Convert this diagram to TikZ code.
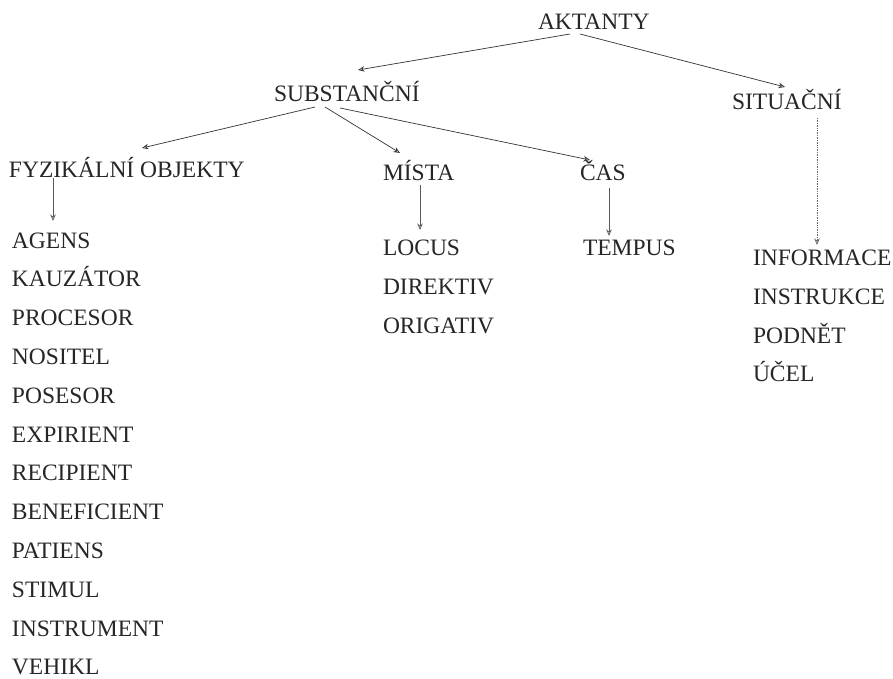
\documentclass[tikz,border=0pt]{standalone}
\usepackage{fontspec}
\setmainfont{Liberation Serif}
\usetikzlibrary{arrows.meta}
\begin{document}
\begin{tikzpicture}[x=1pt,y=-1pt,
  lbl/.style={anchor=base west,inner sep=0pt,outer sep=0pt,text=black!85,
    font=\fontsize{23.5}{28}\selectfont},
  arr/.style={draw=black!80,line width=0.7pt,-{Stealth[open,length=6.5pt,width=5.5pt]}},
  varr/.style={arr,draw=black!65},
  darr/.style={arr,draw=black!60,densely dotted,-{Stealth[open,length=6.5pt,width=5.5pt]}}]
\useasboundingbox[fill=white] (0,0) rectangle (893,679);
% top levels
\node[lbl] (akt) at (538,30) {AKTANTY};
\node[lbl] (subst) at (274,102) {SUBSTANČNÍ};
\node[lbl] (sit) at (732,110) {SITUAČNÍ};
\node[lbl] (fyz) at (9,177) {FYZIKÁLNÍ OBJEKTY};
\node[lbl] (mista) at (383,180) {MÍSTA};
\node[lbl] (cas) at (580,180) {ČAS};
% left list
\node[lbl] (agens) at (12,248.0) {AGENS};
\node[lbl] (kauz) at (12,286.8) {KAUZÁTOR};
\node[lbl] (proc) at (12,325.6) {PROCESOR};
\node[lbl] (nos) at (12,364.4) {NOSITEL};
\node[lbl] (pos) at (12,403.2) {POSESOR};
\node[lbl] (exp) at (12,442.0) {EXPIRIENT};
\node[lbl] (rec) at (12,480.8) {RECIPIENT};
\node[lbl] (ben) at (12,519.6) {BENEFICIENT};
\node[lbl] (pat) at (12,558.4) {PATIENS};
\node[lbl] (stim) at (12,597.2) {STIMUL};
\node[lbl] (instr) at (12,636.0) {INSTRUMENT};
\node[lbl] (veh) at (12,674.6) {VEHIKL};
% middle
\node[lbl] (locus) at (383,255) {LOCUS};
\node[lbl] (dir) at (383,294) {DIREKTIV};
\node[lbl] (orig) at (383,333) {ORIGATIV};
\node[lbl] (temp) at (583,255) {TEMPUS};
% right
\node[lbl] (inf) at (753,265) {INFORMACE};
\node[lbl] (ins) at (753,304) {INSTRUKCE};
\node[lbl] (pod) at (753,343) {PODNĚT};
\node[lbl] (ucel) at (753,381) {ÚČEL};
% connectors
\draw[arr] ([shift={(32,4)}]akt.base west) -- ([shift={(84,-32)}]subst.base west);
\draw[arr] ([shift={(42,4)}]akt.base west) -- ([shift={(53,-23)}]sit.base west);
\draw[arr] ([shift={(41,5)}]subst.base west) -- ([shift={(133,-29)}]fyz.base west);
\draw[arr] ([shift={(51,5)}]subst.base west) -- ([shift={(17,-27)}]mista.base west);
\draw[arr] ([shift={(66,6)}]subst.base west) -- ([shift={(10,-20)}]cas.base west);
\draw[varr] ([shift={(44,1)}]fyz.base west) -- ([shift={(41,-27)}]agens.base west);
\draw[varr] ([shift={(37,5)}]mista.base west) -- ([shift={(37,-25)}]locus.base west);
\draw[varr] ([shift={(29,8)}]cas.base west) -- ([shift={(26,-19)}]temp.base west);
\draw[darr] ([shift={(85,8)}]sit.base west) -- ([shift={(64,-20)}]inf.base west);
\end{tikzpicture}
\end{document}
